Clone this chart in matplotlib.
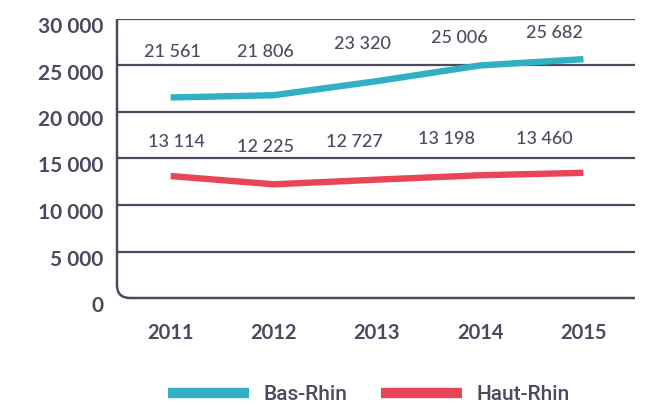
import matplotlib
matplotlib.use("Agg")
import matplotlib.pyplot as plt
from matplotlib.path import Path
from matplotlib.patches import PathPatch
from matplotlib.lines import Line2D
import matplotlib.transforms as mtransforms

# data
years = ["2011", "2012", "2013", "2014", "2015"]
bas_rhin = [21561, 21806, 23320, 25006, 25682]
haut_rhin = [13114, 12225, 12727, 13198, 13460]
y_ticks = [0, 5000, 10000, 15000, 20000, 25000, 30000]
y_tick_labels = ["0", "5 000", "10 000", "15 000", "20 000", "25 000", "30 000"]

teal = "#30b1c3"
red = "#e84658"
dark = "#4b4a5e"

# label placement (style only): pixel x offsets and label heights
bas_dx = [2, -8, -15, -21, -29]
bas_ly = [26450, 26450, 27300, 27950, 28450]
haut_dx = [6, -8, -23, -34, -39]
haut_ly = [16750, 16250, 16800, 17100, 17100]

fig = plt.figure(figsize=(6.5, 4.05), dpi=100)
ax = fig.add_axes([117 / 650, 1 - 298 / 405, 518 / 650, 279 / 405])
x = list(range(len(years)))

ax.plot(x, bas_rhin, color=teal, lw=4.6, solid_capstyle="butt", solid_joinstyle="round", zorder=3)
ax.plot(x, haut_rhin, color=red, lw=4.6, solid_capstyle="butt", solid_joinstyle="round", zorder=3)

def fmt(v):
    return f"{v:,}".replace(",", " ")

for i in x:
    off = mtransforms.offset_copy(ax.transData, fig=fig, x=bas_dx[i] * 0.72, y=0, units="points")
    ax.text(i, bas_ly[i], fmt(bas_rhin[i]), transform=off, ha="center", va="center",
            fontsize=13, color=dark, family="Lato", weight="medium")
    off = mtransforms.offset_copy(ax.transData, fig=fig, x=haut_dx[i] * 0.72, y=0, units="points")
    ax.text(i, haut_ly[i], fmt(haut_rhin[i]), transform=off, ha="center", va="center",
            fontsize=13, color=dark, family="Lato", weight="medium")

ax.set_xlim(-0.52, 4.5)
ax.set_ylim(0, 30000)

# grid lines
for t in y_ticks[1:]:
    ax.axhline(t, color=dark, lw=1.6, zorder=1)

for s in ax.spines.values():
    s.set_visible(False)

# left axis + baseline with rounded corner
rx, ry = 13 / 518, 13 / 279
verts = [(0, 1), (0, ry), (0, 0), (rx, 0), (1, 0)]
codes = [Path.MOVETO, Path.LINETO, Path.CURVE3, Path.CURVE3, Path.LINETO]
ax.add_patch(PathPatch(Path(verts, codes), transform=ax.transAxes, fill=False,
                       edgecolor=dark, lw=1.8, clip_on=False, zorder=2))

ax.set_xticks(x)
ax.set_xticklabels(years)
ax.set_yticks(y_ticks)
ax.set_yticklabels(y_tick_labels)
ax.tick_params(length=0, colors=dark, labelsize=14.5)
ax.tick_params(axis="x", pad=18)
ax.tick_params(axis="y", labelsize=15, pad=10)
for lab in ax.get_xticklabels() + ax.get_yticklabels():
    lab.set_fontweight("bold")
    lab.set_family("Lato")
shift = mtransforms.ScaledTranslation(0, -6 / 100, fig.dpi_scale_trans)
for lab in ax.get_yticklabels():
    lab.set_transform(lab.get_transform() + shift)

handles = [Line2D([], [], color=teal, lw=7.5, solid_capstyle="butt"),
           Line2D([], [], color=red, lw=7.5, solid_capstyle="butt")]
fig.legend(handles, ["Bas-Rhin", "Haut-Rhin"], loc="lower left",
           bbox_to_anchor=(149 / 650, -18 / 405), ncol=2, frameon=False,
           handlelength=3.9, handletextpad=0.7, columnspacing=1.6,
           prop={"family": "Roboto", "weight": "medium", "size": 15},
           labelcolor=dark)

fig.savefig("out.png", dpi=100)
